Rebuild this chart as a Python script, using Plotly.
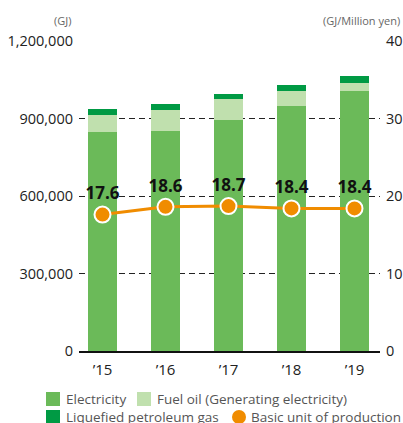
import plotly.graph_objects as go

years = ["’15", "’16", "’17", "’18", "’19"]
electricity = [848000, 852000, 894000, 948000, 1006000]
fuel_oil = [66000, 81000, 81000, 58000, 31000]
lpg = [23000, 23000, 19000, 23000, 27000]
basic_unit = [17.6, 18.6, 18.7, 18.4, 18.4]
left_ticks = [0, 300000, 600000, 900000, 1200000]
right_ticks = [0, 10, 20, 30, 40]

FONT = "Open Sans"
c_elec = "#6BBA59"
c_fuel = "#C0E0AE"
c_lpg = "#009A44"
c_line = "#F08C00"

W, H = 403, 423
ML, MR, MT, MB = 79, 23, 41, 72
PW, PH = W - ML - MR, H - MT - MB


def px(xp):
    return (xp - ML) / PW


def py(yp):
    return (H - MB - yp) / PH


xs = list(range(len(years)))
fig = go.Figure()
fig.add_bar(x=xs, y=electricity, name="Electricity", marker_color=c_elec, width=0.46)
fig.add_bar(x=xs, y=fuel_oil, name="Fuel oil (Generating electricity)", marker_color=c_fuel, width=0.46)
fig.add_bar(x=xs, y=lpg, name="Liquefied petroleum gas", marker_color=c_lpg, width=0.46)
fig.add_scatter(x=xs, y=basic_unit, yaxis="y2", mode="lines+markers+text",
                name="Basic unit of production",
                text=[f"{v:.1f}" for v in basic_unit], textposition="top center",
                textfont=dict(family=FONT, size=17, color="#111", weight="bold"),
                line=dict(color=c_line, width=3),
                marker=dict(color=c_line, size=16, line=dict(color="white", width=2)),
                cliponaxis=False)

# legend (drawn manually to reproduce the two-row layout)
legend_items = [
    ("Electricity", c_elec, "square", 46, 399),
    ("Fuel oil (Generating electricity)", c_fuel, "square", 137, 399),
    ("Liquefied petroleum gas", c_lpg, "square", 46, 417),
    ("Basic unit of production", c_line, "circle", 232, 417),
]
shapes = []
annotations = []
for label, color, kind, x0, yc in legend_items:
    size = 14
    shapes.append(dict(type="rect" if kind == "square" else "circle",
                       xref="paper", yref="paper",
                       x0=px(x0), x1=px(x0 + size), y0=py(yc + size / 2), y1=py(yc - size / 2),
                       fillcolor=color, line=dict(width=0), layer="above"))
    annotations.append(dict(text=label, xref="paper", yref="paper",
                            x=px(x0 + size + 4 if kind == "square" else x0 + size + 3), y=py(yc),
                            xanchor="left", yanchor="middle", showarrow=False,
                            font=dict(size=13.5, color="#555")))

annotations += [
    dict(text="(GJ)", xref="paper", yref="paper", x=px(73), y=py(20),
         xanchor="right", yanchor="middle", showarrow=False,
         font=dict(size=11, color="#666")),
    dict(text="(GJ/Million yen)", xref="paper", yref="paper", x=px(402), y=py(20),
         xanchor="right", yanchor="middle", showarrow=False,
         font=dict(size=11, color="#666")),
]

fig.update_layout(
    template="none",
    width=W, height=H,
    margin=dict(l=ML, r=MR, t=MT, b=MB, pad=0),
    barmode="stack",
    showlegend=False,
    plot_bgcolor="white", paper_bgcolor="white",
    font=dict(family=FONT, color="#222"),
    xaxis=dict(range=[-0.373, 4.405], tickvals=xs, ticktext=years, automargin=False,
               tickfont=dict(size=15, color="#222"), showline=True, linecolor="#111",
               linewidth=2, showgrid=False, zeroline=False, ticks="",
               ticklabelstandoff=4),
    yaxis=dict(range=[0, 1200000], tickvals=left_ticks, automargin=False,
               ticktext=[f"{v:,}" for v in left_ticks], ticks="",
               tickfont=dict(size=14.5, color="#222"), showgrid=True, gridcolor="#222",
               griddash="6px,4px", gridwidth=1, zeroline=False, showline=False,
               ticklabelstandoff=5),
    yaxis2=dict(range=[0, 40], tickvals=right_ticks, overlaying="y", side="right",
                automargin=False, ticks="", showline=False,
                tickfont=dict(size=14.5, color="#222"), showgrid=False, zeroline=False,
                ticklabelstandoff=5),
    shapes=shapes,
    annotations=annotations,
)
fig.write_html("out.html", config={"displayModeBar": False},
               post_script="document.body.style.margin='0';document.body.style.overflow='hidden';")
